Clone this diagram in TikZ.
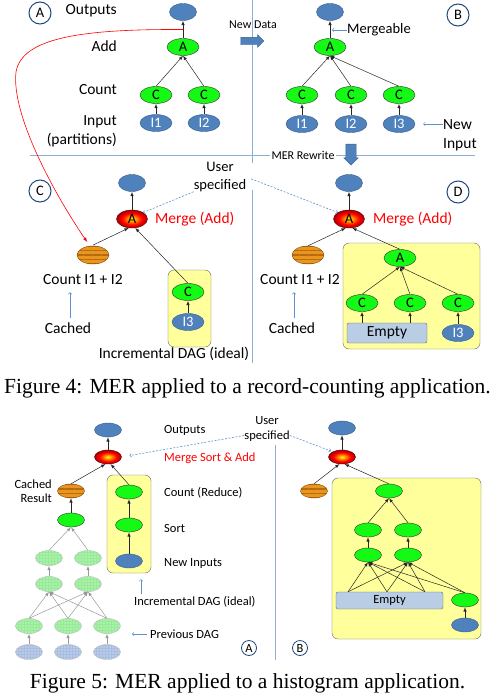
\documentclass[tikz,border=0pt]{standalone}
\usepackage{fontspec}
\setmainfont{Carlito}
\newfontfamily\capserif{Liberation Serif}
\usepackage{tikz}
\usetikzlibrary{arrows}
\usetikzlibrary{patterns}
\usetikzlibrary{patterns.meta}
\usetikzlibrary{shapes.geometric}
\usetikzlibrary{shapes.arrows}

\definecolor{outblue}{RGB}{79,129,189}
\definecolor{outedge}{RGB}{56,93,138}
\definecolor{opgreen}{RGB}{20,250,20}
\definecolor{boxyellow}{RGB}{255,255,155}
\definecolor{emptyblue}{RGB}{185,205,229}
\definecolor{noteblue}{RGB}{95,145,205}
\definecolor{divblue}{RGB}{140,175,215}
\definecolor{ringblue}{RGB}{31,73,125}
\definecolor{cacheorange}{RGB}{232,150,30}
\definecolor{cachestripe}{RGB}{185,105,15}
\definecolor{oldgreen}{RGB}{170,242,170}
\definecolor{oldgrid}{RGB}{152,234,152}
\definecolor{oldblue}{RGB}{185,203,232}
\definecolor{oldbluegrid}{RGB}{168,189,223}

\pgfdeclareradialshading{mergeshade}{\pgfpoint{0bp}{0bp}}{color(0bp)=(yellow);color(8bp)=(orange);color(16bp)=(red);color(22bp)=(red!80!black);color(25bp)=(red!60!black);color(50bp)=(red!60!black)}

\newcommand{\bigtext}{\fontsize{15.5}{19}\selectfont}
\newcommand{\usertext}{\fontsize{14.5}{17.5}\selectfont}
\newcommand{\smalltext}{\fontsize{12.5}{14.5}\selectfont}
\newcommand{\tinytext}{\fontsize{12}{14}\selectfont}
\newcommand{\nodetext}{\fontsize{14.5}{17}\selectfont}
\newcommand{\figcaptext}{\capserif\fontsize{21.5}{26}\selectfont}

\begin{document}
\begin{tikzpicture}[x=1pt,y=-1pt,>=latex,
  outnode/.style={ellipse,draw=outedge,fill=outblue,inner sep=0pt,minimum width=27pt,minimum height=17pt},
  innode/.style={ellipse,draw=outedge,fill=outblue,text=white,inner sep=0pt,minimum width=32pt,minimum height=17pt,font=\nodetext},
  opnode/.style={ellipse,draw=black!80,fill=opgreen,inner sep=0pt,minimum width=32pt,minimum height=17pt,font=\nodetext},
  mergenode/.style={ellipse,draw=red!35!black,shading=mergeshade,inner sep=0pt,minimum width=31pt,minimum height=18pt,font=\nodetext},
  cachenode/.style={ellipse,draw=cachestripe!70!black,preaction={fill=cacheorange},pattern={Lines[angle=0,distance=4.5pt,line width=1.8pt]},pattern color=cachestripe,inner sep=0pt,minimum width=32pt,minimum height=18pt},
  oldnode/.style={ellipse,draw=black!25,preaction={fill=oldgreen},pattern=grid,pattern color=oldgrid,inner sep=0pt,minimum width=27pt,minimum height=15pt},
  oldinput/.style={ellipse,draw=black!25,preaction={fill=oldblue},pattern=grid,pattern color=oldbluegrid,inner sep=0pt,minimum width=27pt,minimum height=15pt},
  fivesize/.style={minimum width=27pt,minimum height=14pt},
  groupbox/.style={draw=black!60,fill=boxyellow,rounded corners=6pt,inner sep=0pt},
  emptybox/.style={draw=black!60,fill=emptyblue,rounded corners=2pt,inner sep=0pt,font=\bigtext},
  panel/.style={circle,draw=ringblue,line width=1pt,fill=white,inner sep=0pt,minimum size=22pt,font=\nodetext},
  smallpanel/.style={minimum size=15pt,line width=0.8pt,font=\smalltext},
  lbl/.style={font=\bigtext,inner sep=0pt},
  userlbl/.style={font=\usertext,inner sep=0pt,align=center},
  smalllbl/.style={font=\smalltext,inner sep=0pt},
  tinylbl/.style={font=\tinytext,inner sep=0pt},
  flow/.style={->,color=black!85,line width=0.5pt},
  oldflow/.style={->,color=black!40,line width=0.5pt},
  notearrow/.style={-to,draw=noteblue,line width=0.6pt},
  userarrow/.style={-to,draw=noteblue,line width=0.6pt,dash pattern=on 2pt off 1.5pt},
  divider/.style={draw=divblue,line width=1pt}]

  \path[use as bounding box,fill=white] (0,0) rectangle (496,696);

  % dividers of figure 4
  \draw[divider] (30,155) -- (475,155);
  \draw[divider] (252,0) -- (252,163);
  \draw[divider] (252,190) -- (252,363);
  \node[tinylbl,fill=white,inner xsep=2pt] (rewrite) at (303,155) {MER Rewrite};
  \node[single arrow,shape border rotate=270,fill=outblue,draw=outedge,inner sep=5pt,single arrow head extend=2pt,minimum height=21pt] (rewritearrow) at (351,152) {};
  \node[tinylbl] (newdata) at (253,25) {New Data};
  \node[single arrow,fill=outblue,draw=outedge,inner sep=3.5pt,single arrow head extend=2.5pt,minimum height=23pt] (newdataarrow) at (250.5,41) {};

  % panel A
  \node[panel] (pa) at (40,13) {A};
  \node[lbl,anchor=east] (lout) at (117,11) {Outputs};
  \node[lbl,anchor=east] (ladd) at (117,46) {Add};
  \node[lbl,anchor=east] (lcount) at (117,90) {Count};
  \node[lbl,anchor=east,align=right] (linput) at (117,131) {Input\\(partitions)};
  \node[outnode] (outa) at (183,12) {};
  \node[opnode] (adda) at (183,47) {A};
  \node[opnode] (c1a) at (156,95) {C};
  \node[opnode] (c2a) at (204,95) {C};
  \node[innode] (i1a) at (156,123) {I1};
  \node[innode] (i2a) at (204,123) {I2};
  \path [flow] (adda.north) edge (outa.south);
  \path [flow] (c1a.north) edge (adda.south);
  \path [flow] (c2a.north) edge (adda.south);
  \path [flow] (i1a.north) edge (c1a.south);
  \path [flow] (i2a.north) edge (c2a.south);

  % panel B
  \node[panel] (pb) at (458,15) {B};
  \node[outnode] (outb) at (330,12) {};
  \node[opnode] (addb) at (330,47) {A};
  \node[opnode] (c1b) at (302,95) {C};
  \node[opnode] (c2b) at (351,95) {C};
  \node[opnode] (c3b) at (399,95) {C};
  \node[innode] (i1b) at (302,124) {I1};
  \node[innode] (i2b) at (351,124) {I2};
  \node[innode] (i3b) at (399,124) {I3};
  \path [flow] (addb.north) edge (outb.south);
  \path [flow] (c1b.north) edge (addb.south);
  \path [flow] (c2b.north) edge (addb.south);
  \path [flow] (c3b.north) edge (addb.south);
  \path [flow] (i1b.north) edge (c1b.south);
  \path [flow] (i2b.north) edge (c2b.south);
  \path [flow] (i3b.north) edge (c3b.south);
  \node[lbl,font=\usertext,anchor=west] (mergeable) at (347,30) {Mergeable};
  \coordinate (mergeabletip) at (332,30);
  \draw[notearrow] (mergeable.west) -- (mergeabletip);
  \node[lbl,anchor=west,align=left] (newinput) at (443,135) {New\\Input};
  \draw[notearrow,shorten >=8pt] (newinput.west |- i3b) -- (i3b.east);

  % panel C
  \node[panel] (pc) at (40,191) {C};
  \node[outnode] (outc) at (132,183) {};
  \node[mergenode] (mergec) at (132,219) {A};
  \node[lbl,text=red,anchor=west] (mergelc) at (155,219) {Merge (Add)};
  \node[cachenode] (cachec) at (93,255) {};
  \node[lbl] (countc) at (83,280) {Count I1 + I2};
  \node[lbl] (cachedc) at (68,328) {Cached};
  \draw[notearrow] ([xshift=2pt,yshift=4pt]cachedc.north) -- ([xshift=2pt,yshift=-7pt]cachedc.north |- countc.south);
  \node[groupbox,minimum width=43pt,minimum height=77pt] (boxc) at (189.5,308.5) {};
  \node[opnode] (c3c) at (188,292) {C};
  \node[innode] (i3c) at (188,322) {I3};
  \node[lbl] (incc) at (174,354) {Incremental DAG (ideal)};
  \path [flow] (mergec.north) edge (outc.south);
  \path [flow] (cachec.north) edge (mergec.250);
  \path [flow] (c3c.north) edge (mergec.290);
  \path [flow] (i3c.north) edge (c3c.south);
  \node[userlbl] (userc) at (220,177) {User\\specified};

  % panel D
  \node[panel] (pd) at (458,192) {D};
  \node[outnode] (outd) at (349,183) {};
  \node[mergenode] (merged) at (349,219) {A};
  \node[lbl,text=red,anchor=west] (mergeld) at (373,219) {Merge (Add)};
  \node[cachenode] (cached) at (308,255) {};
  \node[lbl] (countd) at (300,280) {Count I1 + I2};
  \node[lbl] (cachedd) at (292,328) {Cached};
  \draw[notearrow] ([xshift=2pt,yshift=4pt]cachedd.north) -- ([xshift=2pt,yshift=-7pt]cachedd.north |- countd.south);
  \node[groupbox,minimum width=137pt,minimum height=106pt] (boxd) at (411.5,296) {};
  \node[opnode] (addd) at (400,258) {A};
  \node[opnode] (c1d) at (362,303) {C};
  \node[opnode] (c2d) at (410,303) {C};
  \node[opnode] (c3d) at (458,303) {C};
  \node[emptybox,minimum width=80pt,minimum height=20pt] (emptyd) at (387,333) {Empty};
  \node[innode] (i3d) at (458,333) {I3};
  \path [flow] (merged.north) edge (outd.south);
  \path [flow] (cached.north) edge (merged.250);
  \path [flow] (addd.north) edge (merged.290);
  \path [flow] (c1d.north) edge (addd.south);
  \path [flow] (c2d.north) edge (addd.south);
  \path [flow] (c3d.north) edge (addd.south);
  \path [flow] (c1d |- emptyd.north) edge (c1d.south);
  \path [flow] (c2d |- emptyd.north) edge (c2d.south);
  \path [flow] (i3d.north) edge (c3d.south);

  \draw[userarrow] (userc.south west) -- (mergec.30);
  \draw[userarrow,shorten <=5pt] (userc.east) -- (merged.150);
  \draw[->,red,line width=0.6pt,shorten >=4pt] (outa |- 0,29.5) .. controls (80,29) and (22,38) .. (16,72) .. controls (11,115) and (55,195) .. (cachec.110);

  \node[font=\figcaptext,anchor=base,inner sep=0pt] (cap4) at (247.5,393) {Figure 4: MER applied to a record-counting application.};

  % figure 5, panel A
  \draw[divider] (275,445) -- (275,660);
  \node[outnode,fivesize] (out5a) at (108,430) {};
  \node[mergenode,fivesize] (merge5a) at (108,457) {};
  \node[smalllbl,anchor=west] (lout5) at (164,430) {Outputs};
  \node[smalllbl,anchor=west,text=red] (lmerge5) at (164,458) {Merge Sort \& Add};
  \node[smalllbl,align=center] (user5) at (267,429) {User\\specified};
  \node[smalllbl,anchor=east,align=right] (lcache5) at (52,491) {Cached\\Result};
  \node[cachenode,fivesize] (cache5a) at (71,491) {};
  \node[opnode,fivesize] (g5a) at (71,520) {};
  \node[groupbox,minimum width=44pt,minimum height=98pt] (box5a) at (129,524) {};
  \node[opnode,fivesize] (count5a) at (129,492) {};
  \node[opnode,fivesize] (sort5a) at (129,525) {};
  \node[innode,fivesize] (new5a) at (129,561) {};
  \node[smalllbl,anchor=west] (lcount5) at (164,493) {Count (Reduce)};
  \node[smalllbl,anchor=west] (lsort5) at (164,528) {Sort};
  \node[smalllbl,anchor=west] (lnew5) at (164,563) {New Inputs};
  \node[smalllbl,anchor=west] (linc5) at (134,602) {Incremental DAG (ideal)};
  \node[smalllbl,anchor=west] (lprev5) at (150,634) {Previous DAG};
  \draw[notearrow,shorten >=6pt] ([xshift=7pt,yshift=2pt]linc5.north west) -- ([xshift=7pt]linc5.north west |- box5a.south);
  \draw[notearrow] ([xshift=-3pt]lprev5.west) -- ++(-15,0);
  \node[oldnode] (t1) at (49,558) {};
  \node[oldnode] (t2) at (88,558) {};
  \node[oldnode] (m1) at (49,584) {};
  \node[oldnode] (m2) at (88,584) {};
  \node[oldnode] (b1) at (29,626) {};
  \node[oldnode] (b2) at (68,626) {};
  \node[oldnode] (b3) at (107,626) {};
  \node[oldinput] (p1) at (29,652) {};
  \node[oldinput] (p2) at (68,652) {};
  \node[oldinput] (p3) at (107,652) {};
  \path [oldflow] (p1.north) edge (b1.south);
  \path [oldflow] (p2.north) edge (b2.south);
  \path [oldflow] (p3.north) edge (b3.south);
  \path [oldflow] (b1.north) edge (m1.south);
  \path [oldflow] (b1.north) edge (m2.south);
  \path [oldflow] (b2.north) edge (m1.south);
  \path [oldflow] (b2.north) edge (m2.south);
  \path [oldflow] (b3.north) edge (m1.south);
  \path [oldflow] (b3.north) edge (m2.south);
  \path [oldflow] (m1.north) edge (t1.south);
  \path [oldflow] (m2.north) edge (t2.south);
  \path [oldflow] (t1.north) edge (g5a.south);
  \path [oldflow] (t2.north) edge (g5a.south);
  \path [flow] (g5a.north) edge (cache5a.south);
  \path [flow] (cache5a.north) edge (merge5a.250);
  \path [flow] (count5a.north) edge (merge5a.290);
  \path [flow] (merge5a.north) edge (out5a.south);
  \path [flow] (sort5a.north) edge (count5a.south);
  \path [flow] (new5a.north) edge (sort5a.south);
  \node[panel,smallpanel] (p5a) at (249,648) {A};

  % figure 5, panel B
  \node[outnode,fivesize] (out5b) at (342,428) {};
  \node[mergenode,fivesize] (merge5b) at (342,457) {};
  \node[cachenode,fivesize] (cache5b) at (314,491) {};
  \node[groupbox,minimum width=149pt,minimum height=161pt] (box5b) at (406.5,558.5) {};
  \node[opnode,fivesize] (top5b) at (389,491) {};
  \node[opnode,fivesize] (r2a) at (368,530) {};
  \node[opnode,fivesize] (r2b) at (408,530) {};
  \node[opnode,fivesize] (r3a) at (368,555) {};
  \node[opnode,fivesize] (r3b) at (408,555) {};
  \node[emptybox,font=\smalltext,minimum width=107pt,minimum height=17pt] (empty5b) at (389.5,600.5) {Empty};
  \node[opnode,fivesize] (g5b) at (465,600) {};
  \node[innode,fivesize] (new5b) at (465,625) {};
  \coordinate (e1) at ([xshift=-41.5pt]empty5b.north);
  \coordinate (e2) at ([xshift=-2.5pt]empty5b.north);
  \coordinate (e3) at ([xshift=35.5pt]empty5b.north);
  \path [flow] (e1) edge (r3a.south);
  \path [flow] (e1) edge (r3b.south);
  \path [flow] (e2) edge (r3a.south);
  \path [flow] (e2) edge (r3b.south);
  \path [flow] (e3) edge (r3a.south);
  \path [flow] (e3) edge (r3b.south);
  \path [flow] (g5b.north) edge (r3a.south);
  \path [flow] (g5b.north) edge (r3b.south);
  \path [flow] (new5b.north) edge (g5b.south);
  \path [flow] (r3a.north) edge (r2a.south);
  \path [flow] (r3b.north) edge (r2b.south);
  \path [flow] (r2a.north) edge (top5b.south);
  \path [flow] (r2b.north) edge (top5b.south);
  \path [flow] (top5b.north) edge (merge5b.290);
  \path [flow] (cache5b.north) edge (merge5b.250);
  \path [flow] (merge5b.north) edge (out5b.south);
  \node[panel,smallpanel] (p5b) at (300,648) {B};

  \draw[userarrow,shorten >=8pt] ([yshift=6pt]user5.south west) -- (merge5a.east);
  \draw[userarrow,shorten >=2pt] ([yshift=6pt]user5.south east) -- (merge5b.150);

  \node[font=\figcaptext,anchor=base,inner sep=0pt] (cap5) at (247.5,688) {Figure 5: MER applied to a histogram application.};
\end{tikzpicture}
\end{document}
